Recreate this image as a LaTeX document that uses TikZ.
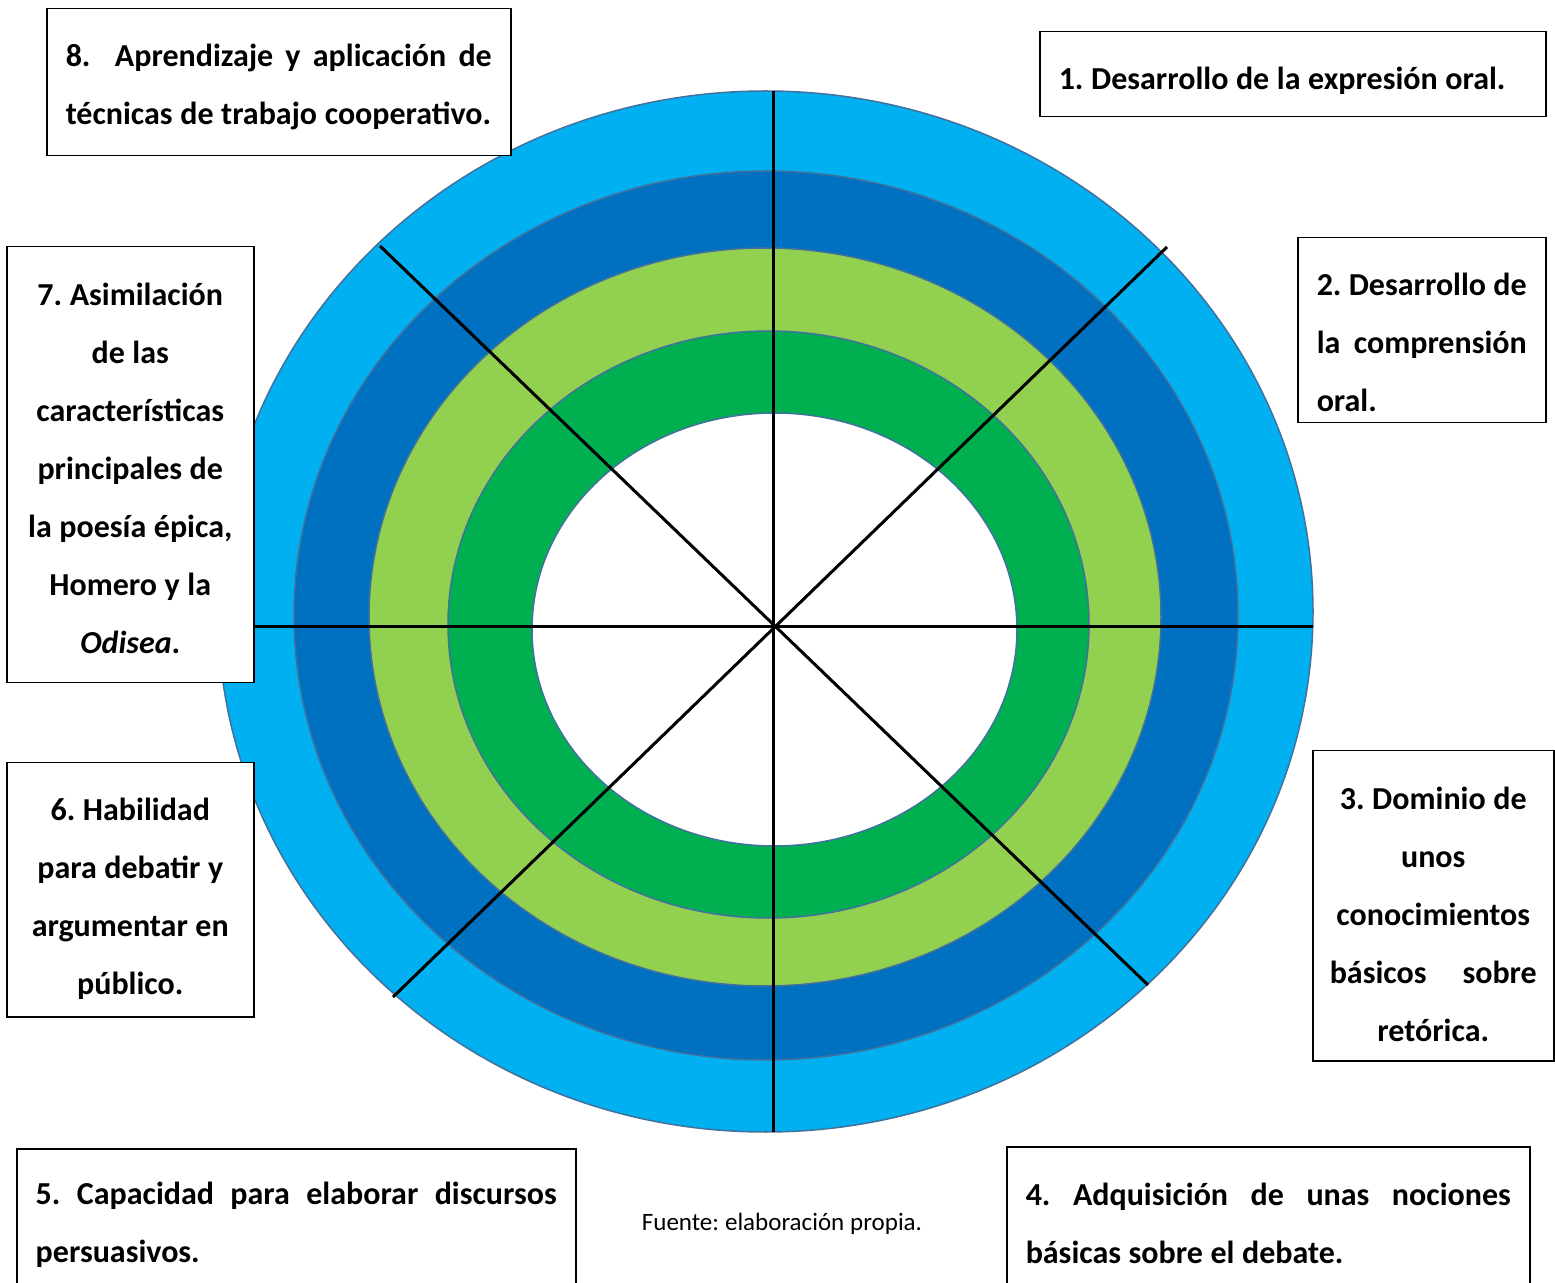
\documentclass[tikz,border=0pt]{standalone}
\usepackage{fontspec}
\setmainfont{Carlito}[WordSpace=1.05]
\frenchspacing
\pgfdeclarelayer{edgelayer}
\pgfdeclarelayer{nodelayer}
\pgfsetlayers{edgelayer,nodelayer,main}
\definecolor{skyblue}{HTML}{00B0F0}
\definecolor{deepblue}{HTML}{0070C0}
\definecolor{limegreen}{HTML}{92D050}
\definecolor{leafgreen}{HTML}{00B050}
\definecolor{ringline}{HTML}{41719C}
\tikzstyle{ring}=[draw=ringline, line width=0.75pt]
\tikzstyle{edge}=[draw=black, line width=1.5pt]
\tikzstyle{box}=[draw=black, fill=white, line width=0.75pt, anchor=north west, inner xsep=9.5pt, inner ysep=0pt, font=\fontsize{16}{29}\selectfont\bfseries, execute at begin node={\spaceskip=0pt\xspaceskip=0pt}]
\newcommand{\fullline}[1]{\makebox[\hsize][s]{\spaceskip=0pt\xspaceskip=0pt #1}}

\begin{document}
\begin{tikzpicture}[x=0.5pt, y=-0.5pt]
	\useasboundingbox (0,0) rectangle (1555,1283);
	\clip (0,0) rectangle (1555,1283);
	\coordinate (0) at (773, 627);
	\coordinate (n) at (773, 91);
	\coordinate (s) at (773, 1132);
	\coordinate (w) at (215, 627);
	\coordinate (e) at (1313, 627);
	\coordinate (nw) at (380, 246);
	\coordinate (se) at (1148, 985);
	\coordinate (ne) at (1167, 247);
	\coordinate (sw) at (393, 997);
	\begin{pgfonlayer}{edgelayer}
		\fill [style=ring, fill=skyblue] (765.5, 611.5) ellipse [x radius=547.5, y radius=520.5];
		\fill [style=ring, fill=deepblue] (766, 615.5) ellipse [x radius=472, y radius=444.5];
		\fill [style=ring, fill=limegreen] (765, 617) ellipse [x radius=396, y radius=369];
		\fill [style=ring, fill=leafgreen] (768.5, 624.5) ellipse [x radius=320.5, y radius=293.5];
		\fill [style=ring, fill=white] (774.5, 629.5) ellipse [x radius=242.5, y radius=216.5];
		\draw [style=edge] (n) to (s);
		\draw [style=edge] (w) to (e);
		\draw [style=edge] (nw) to (se);
		\draw [style=edge] (ne) to (sw);
	\end{pgfonlayer}
	\begin{pgfonlayer}{nodelayer}
		\node [style=box, text width=234pt, minimum height=42.5pt, text height=18pt, align=left] (1) at (1039, 31) {\mbox{1. Desarrollo de la expresión oral.}};
		\node [style=box, text width=105pt, minimum height=92.5pt, text height=23pt, align=left] (2) at (1297, 237) {\fullline{2. Desarrollo de}\\ \fullline{la comprensión}\\ oral.};
		\node [style=box, text width=103.5pt, inner xsep=8.5pt, minimum height=155pt, text height=20pt, align=center] (3) at (1312, 750) {\mbox{3. Dominio de}\\ unos\\ conocimientos\\ \fullline{básicos sobre}\\ retórica.};
		\node [style=box, text width=242.5pt, minimum height=76.5pt, align=left] (4) at (1006, 1146) {\fullline{4. Adquisición de unas nociones}\\ \mbox{básicas sobre el debate.}};
		\node [style=box, text width=260.5pt, minimum height=76pt, align=left] (5) at (16, 1148) {\fullline{5. Capacidad para elaborar discursos}\\ persuasivos.};
		\node [style=box, text width=104.5pt, minimum height=127pt, text height=20pt, align=center] (6) at (6, 762) {\mbox{6. Habilidad}\\ \mbox{para debatir y}\\ \mbox{argumentar en}\\ público.};
		\node [style=box, text width=104.5pt, minimum height=218pt, text height=15pt, align=center] (7) at (6, 246) {\mbox{7. Asimilación}\\ \mbox{de las}\\ características\\ \mbox{principales de}\\ \mbox{la poesía épica,}\\ \mbox{Homero y la}\\ \textit{Odisea}.};
		\node [style=box, text width=213pt, minimum height=73.5pt, text height=15.5pt, align=left] (8) at (46, 8) {\fullline{8.\ \ Aprendizaje y aplicación de}\\ \mbox{técnicas de trabajo cooperativo.}};
		\node [font=\fontsize{12.5}{15}\selectfont] (src) at (782, 1224) {Fuente: elaboración propia.};
	\end{pgfonlayer}
\end{tikzpicture}
\end{document}
